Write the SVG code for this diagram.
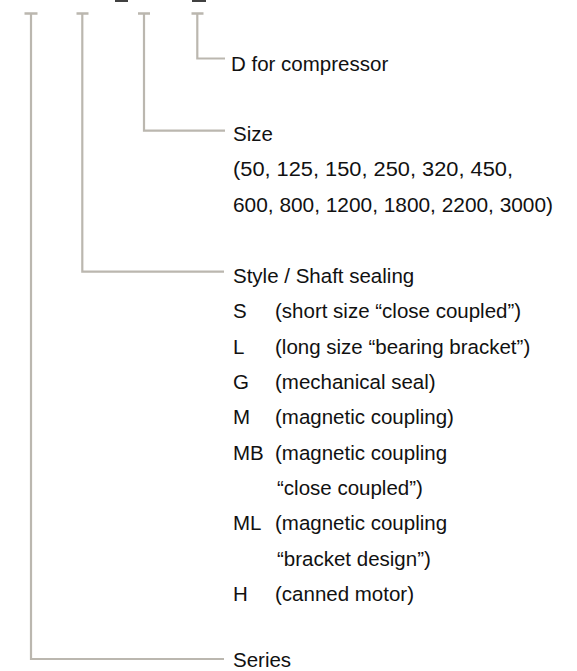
<svg xmlns="http://www.w3.org/2000/svg" width="577" height="671" viewBox="0 0 577 671">
<style>
.c{fill:none;stroke:#bbb7af;stroke-width:2.2}
.cap{fill:none;stroke:#bbb7af;stroke-width:2.6}
text{font-family:"Liberation Sans",Arial,sans-serif;font-size:20.5px;fill:#111}
.frag{stroke:#111;stroke-width:1.6}
</style>
<rect width="577" height="671" fill="#fff"/>
<g id="top-fragments">
<line class="frag" x1="115" y1="1" x2="128" y2="1"/>
<line class="frag" x1="192" y1="1" x2="206" y2="1"/>
</g>
<g id="connectors">
<path class="cap" d="M24.5 13.5H37.5M76.5 13.5H88.5M138 13.5H150M191.5 13.5H203.5"/>
<path class="c" d="M31 13.5V659H224"/>
<path class="c" d="M82.3 13.5V271.7H224"/>
<path class="c" d="M144 13.5V130.7H225"/>
<path class="c" d="M197.3 13.5V58.5H225"/>
</g>
<g id="compressor">
<text x="231" y="71">D for compressor</text>
</g>
<g id="size">
<text x="233" y="141">Size</text>
<text x="233" y="176.3" textLength="280" lengthAdjust="spacingAndGlyphs">(50, 125, 150, 250, 320, 450,</text>
<text x="233" y="211.6" textLength="320" lengthAdjust="spacingAndGlyphs">600, 800, 1200, 1800, 2200, 3000)</text>
</g>
<g id="style">
<text x="233" y="283">Style / Shaft sealing</text>
<text x="233" y="318.3">S</text><text x="275" y="318.3">(short size “close coupled”)</text>
<text x="233" y="353.6">L</text><text x="275" y="353.6">(long size “bearing bracket”)</text>
<text x="233" y="389">G</text><text x="275" y="389">(mechanical seal)</text>
<text x="233" y="424.3">M</text><text x="275" y="424.3">(magnetic coupling)</text>
<text x="233" y="459.6">MB</text><text x="275" y="459.6">(magnetic coupling</text>
<text x="277" y="495">“close coupled”)</text>
<text x="233" y="530.3">ML</text><text x="275" y="530.3">(magnetic coupling</text>
<text x="277" y="565.6">“bracket design”)</text>
<text x="233" y="601">H</text><text x="275" y="601">(canned motor)</text>
</g>
<g id="series">
<text x="233" y="667">Series</text>
</g>
</svg>
